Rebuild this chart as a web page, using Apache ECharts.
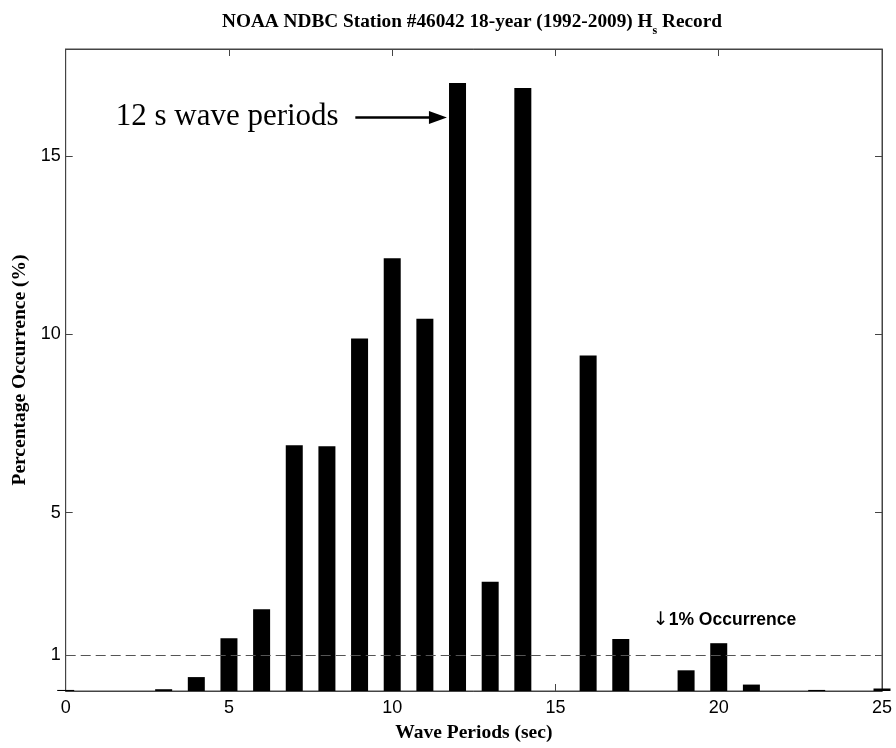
<!DOCTYPE html>
<html>
<head>
<meta charset="utf-8">
<script src="https://cdn.jsdelivr.net/npm/echarts@6/dist/echarts.min.js"></script>
<style>html,body{margin:0;padding:0;background:#fff;}#c{width:896px;height:748px;}</style>
</head>
<body>
<div id="c"></div>
<script>
// Wave periods (sec) and percentage occurrence
const periods = [0, 3, 4, 5, 6, 7, 8, 9, 10, 11, 12, 13, 14, 16, 17, 19, 20, 21, 23, 25];
const occurrence = [0.03, 0.05, 0.39, 1.48, 2.29, 6.89, 6.86, 9.88, 12.13, 10.44, 17.05, 3.06, 16.91, 9.41, 1.46, 0.58, 1.34, 0.18, 0.03, 0.07];
const yTicks = [1, 5, 10, 15];
const threshold = 1;
const arrowFrom = [8.87, 16.08];
const arrowTo = [11.4, 16.08];
const noteText = '12 s wave periods';
const noteAt = [8.36, 16.1];
const note2Text = '{arr|\u2193}1% Occurrence';
const note2At = [17.98, 1.99];

const serif = '"Liberation Serif", "Times New Roman", serif';
const sans = '"Liberation Sans", Arial, sans-serif';
const axisColor = '#444';

const chart = echarts.init(document.getElementById('c'), null, {renderer: 'canvas'});
const data = periods.map((p, i) => [p, occurrence[i]]);

const tickStyle = { show: true, inside: true, length: 7, lineStyle: { color: axisColor, width: 1 } };
const lineStyleAxis = { show: true, onZero: false, lineStyle: { color: axisColor, width: 1 } };

chart.setOption({
  animation: false,
  backgroundColor: '#fff',
  title: {
    text: 'NOAA NDBC Station #46042 18-year (1992-2009) H{sub|s} Record',
    left: 472, top: 7, padding: 0, textAlign: 'center',
    textStyle: {
      fontFamily: serif, fontWeight: 'bold', fontSize: 19.3, color: '#000', lineHeight: 30,
      rich: { sub: { fontFamily: serif, fontWeight: 'bold', fontSize: 12, lineHeight: 12, verticalAlign: 'bottom', color: '#000' } }
    }
  },
  grid: { left: 65.7, right: 14, top: 49, bottom: 54, containLabel: false,
          show: true, borderColor: axisColor, borderWidth: 1, backgroundColor: 'transparent' },
  xAxis: [{
    type: 'value', min: 0, max: 25, interval: 5, position: 'bottom',
    name: 'Wave Periods (sec)', nameLocation: 'middle', nameGap: 32,
    nameTextStyle: { fontFamily: serif, fontWeight: 'bold', fontSize: 19.5, color: '#000' },
    axisLine: lineStyleAxis,
    axisTick: tickStyle,
    axisLabel: { fontFamily: sans, fontSize: 18, color: '#000', margin: 8 },
    splitLine: { show: false }
  }, {
    type: 'value', min: 0, max: 25, interval: 5, position: 'top',
    axisLine: lineStyleAxis,
    axisTick: tickStyle,
    axisLabel: { show: false }, splitLine: { show: false }
  }],
  yAxis: [{
    type: 'value', min: 0, max: 18, position: 'left',
    name: 'Percentage Occurrence (%)', nameLocation: 'middle', nameGap: 34,
    nameTextStyle: { fontFamily: serif, fontWeight: 'bold', fontSize: 19.5, color: '#000' },
    axisLine: lineStyleAxis,
    axisTick: Object.assign({}, tickStyle, { customValues: yTicks }),
    axisLabel: { fontFamily: sans, fontSize: 18, color: '#000', margin: 5, customValues: yTicks },
    splitLine: { show: false }
  }, {
    type: 'value', min: 0, max: 18, position: 'right',
    axisLine: lineStyleAxis,
    axisTick: Object.assign({}, tickStyle, { customValues: yTicks }),
    axisLabel: { show: false, customValues: yTicks }, splitLine: { show: false }
  }],
  series: [{
    type: 'bar', xAxisIndex: 0, yAxisIndex: 0,
    data: data, barWidth: 17, clip: true,
    itemStyle: { color: '#000' },
    markLine: {
      silent: true, symbol: 'none', animation: false,
      label: { show: false },
      data: [
        [ { coord: [0, threshold], symbol: 'none', lineStyle: { type: [10, 5], color: '#555', width: 1 } },
          { coord: [25, threshold], symbol: 'none' } ],
        [ { coord: arrowFrom, symbol: 'none', lineStyle: { type: 'solid', color: '#000', width: 2.5 } },
          { coord: arrowTo, symbol: 'triangle', symbolSize: [13, 18] } ]
      ]
    },
    markPoint: {
      silent: true, symbol: 'circle', symbolSize: 0, animation: false,
      data: [
        { coord: noteAt, value: 0,
          label: { show: true, position: 'inside', formatter: noteText, align: 'right', verticalAlign: 'middle',
                   fontFamily: serif, fontSize: 31, color: '#000' } },
        { coord: note2At, value: 0,
          label: { show: true, position: 'inside', formatter: note2Text, align: 'left', verticalAlign: 'middle',
                   fontFamily: sans, fontWeight: 'bold', fontSize: 17.5, color: '#000',
                   rich: { arr: { fontFamily: '"DejaVu Sans", sans-serif', fontWeight: 'normal', fontSize: 19, color: '#000' } } } }
      ]
    }
  }, {
    type: 'line', xAxisIndex: 1, yAxisIndex: 1, data: [], silent: true, showSymbol: false
  }]
});
</script>
</body>
</html>
